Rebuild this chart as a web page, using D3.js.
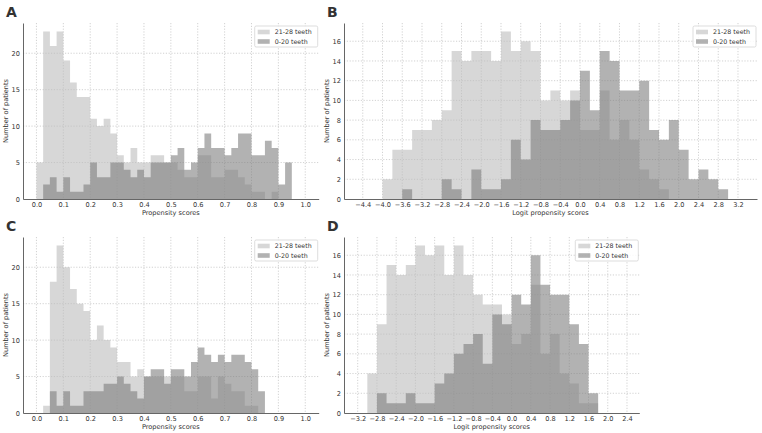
<!DOCTYPE html>
<html>
<head>
<meta charset="utf-8">
<script src="https://cdn.jsdelivr.net/npm/d3@7"></script>
<style>
  body { margin: 0; background: #fff; }
  text { font-family: "DejaVu Sans", sans-serif; fill: #333; }
</style>
</head>
<body>
<svg id="chart" width="762" height="433"></svg>
<script>
const seriesNames = ['21-28 teeth', '0-20 teeth'];

// A: propensity scores, bins of 0.025 starting at 0.0
const binStartA = 0.0, binWidthA = 0.025;
const highA = [5, 23, 21, 23, 19, 16, 14, 14, 11, 10, 11, 9, 6, 5, 7, 5, 5, 6, 6, 5,
               5, 4, 3, 3, 6, 6, 3, 3, 4, 4, 3, 2, 1, 1, 0, 1, 0, 0];
const lowA  = [0, 2, 3, 1, 3, 1, 1, 2, 5, 3, 3, 5, 5, 4, 3, 4, 3, 5, 5, 5,
               6, 7, 4, 5, 7, 9, 7, 7, 6, 7, 9, 9, 6, 6, 8, 7, 2, 5];

// B: logit propensity scores, bins of 0.2 starting at -4.0
const binStartB = -4.0, binWidthB = 0.2;
const highB = [2, 5, 5, 7, 7, 8, 9, 15, 14, 15, 15, 14, 17, 15, 16, 15, 10, 11, 10, 11,
               7, 7, 11, 6, 8, 6, 3, 2, 1, 0, 0, 0, 0, 0, 0];
const lowB  = [0, 0, 1, 0, 0, 0, 2, 1, 0, 3, 1, 1, 2, 6, 4, 8, 7, 7, 8, 10,
               13, 9, 15, 14, 11, 11, 12, 7, 6, 8, 5, 2, 3, 2, 1];

// C: propensity scores after matching, bins of 0.025 starting at 0.025
const binStartC = 0.025, binWidthC = 0.025;
const highC = [1, 18, 23, 20, 17, 15, 14, 10, 12, 10, 9, 7, 7, 5, 6, 5, 5, 5, 5, 5,
               5, 3, 3, 5, 5, 2, 5, 4, 3, 3, 1, 1, 0];
const lowC  = [0, 3, 1, 3, 1, 1, 3, 3, 3, 4, 4, 5, 4, 3, 2, 5, 6, 6, 4, 6,
               6, 5, 7, 9, 8, 7, 8, 7, 8, 8, 7, 6, 3];

// D: logit propensity scores after matching, bins of 0.2 starting at -3.0
const binStartD = -3.0, binWidthD = 0.2;
const highD = [4, 9, 15, 14, 15, 17, 16, 17, 14, 17, 14, 12, 11, 11, 10, 7, 8, 13, 6, 8,
               4, 3, 1, 1];
const lowD  = [0, 2, 1, 1, 2, 1, 1, 3, 4, 6, 7, 8, 5, 10, 9, 12, 11, 16, 13, 12,
               12, 9, 7, 2];

const ticksPropX = [0, 0.1, 0.2, 0.3, 0.4, 0.5, 0.6, 0.7, 0.8, 0.9, 1.0];
const ticksPropY = [0, 5, 10, 15, 20];
const ticksLogitBX = [-4.4, -4.0, -3.6, -3.2, -2.8, -2.4, -2.0, -1.6, -1.2, -0.8, -0.4,
                      0.0, 0.4, 0.8, 1.2, 1.6, 2.0, 2.4, 2.8, 3.2];
const ticksLogitDX = [-3.2, -2.8, -2.4, -2.0, -1.6, -1.2, -0.8, -0.4, 0.0, 0.4, 0.8,
                      1.2, 1.6, 2.0, 2.4];
const ticksLogitY = [0, 2, 4, 6, 8, 10, 12, 14, 16];

const svg = d3.select('#chart');

const fills = [
  { color: '#bdbdbd', opacity: 0.6 },
  { color: '#7a7a7a', opacity: 0.58 }
];

function drawPanel(p) {
  const g = svg.append('g');
  const x = d3.scaleLinear().domain(p.xDomain).range([p.left, p.right]);
  const y = d3.scaleLinear().domain(p.yDomain).range([p.bottom, p.top]);

  // dotted grid
  g.append('g').selectAll('line').data(p.xTicks).join('line')
    .attr('x1', d => x(d)).attr('x2', d => x(d))
    .attr('y1', p.top).attr('y2', p.bottom)
    .attr('stroke', '#b3b3b3').attr('stroke-width', 0.6)
    .attr('stroke-dasharray', '1.2,1.6');
  g.append('g').selectAll('line').data(p.yTicks.filter(d => d > 0)).join('line')
    .attr('x1', p.left).attr('x2', p.right)
    .attr('y1', d => y(d)).attr('y2', d => y(d))
    .attr('stroke', '#b3b3b3').attr('stroke-width', 0.6)
    .attr('stroke-dasharray', '1.2,1.6');

  // histograms, each drawn as one stepped area so the bars have no seams
  const area = d3.area()
    .curve(d3.curveStepAfter)
    .x(d => x(d.x0))
    .y0(y(0))
    .y1(d => y(d.v));

  [p.high, p.low].forEach((counts, k) => {
    const pts = counts.map((v, i) => ({ x0: p.binStart + i * p.binWidth, v }));
    pts.push({ x0: p.binStart + counts.length * p.binWidth, v: counts[counts.length - 1] });
    g.append('path')
      .attr('d', area(pts))
      .attr('fill', fills[k].color)
      .attr('fill-opacity', fills[k].opacity);
  });

  // axes (left and bottom spines only)
  const ax = g.append('g')
    .attr('transform', `translate(0,${p.bottom})`)
    .call(d3.axisBottom(x).tickValues(p.xTicks).tickFormat(d3.format('.1f'))
      .tickSize(0).tickPadding(3.5).tickSizeOuter(0));
  const ay = g.append('g')
    .attr('transform', `translate(${p.left},0)`)
    .call(d3.axisLeft(y).tickValues(p.yTicks).tickFormat(d3.format('d'))
      .tickSize(0).tickPadding(3).tickSizeOuter(0));
  [ax, ay].forEach(a => {
    a.select('.domain').attr('stroke', '#555').attr('stroke-width', 0.9);
    a.selectAll('text').attr('font-size', 6.6).attr('fill', '#333')
      .attr('font-family', '"DejaVu Sans", sans-serif');
  });

  g.append('text')
    .attr('x', (p.left + p.right) / 2).attr('y', p.bottom + 15.5)
    .attr('text-anchor', 'middle').attr('font-size', 6.6)
    .text(p.xLabel);
  g.append('text')
    .attr('transform', `translate(${p.left - 15},${(p.top + p.bottom) / 2}) rotate(-90)`)
    .attr('text-anchor', 'middle').attr('font-size', 6.6)
    .text('Number of patients');

  // panel letter
  g.append('text')
    .attr('x', p.left - 17).attr('y', p.top - 6)
    .attr('font-family', '"Liberation Sans", Arial, sans-serif')
    .attr('font-weight', 'bold').attr('font-size', 14).attr('fill', '#111')
    .text(p.letter);

  // legend
  const lw = 63, lh = 21;
  const lx = p.right - lw - 1, ly = p.top + 3;
  const lg = g.append('g');
  lg.append('rect')
    .attr('x', lx).attr('y', ly).attr('width', lw).attr('height', lh)
    .attr('rx', 1.5).attr('fill', '#fff').attr('fill-opacity', 0.85)
    .attr('stroke', '#cfcfcf').attr('stroke-width', 0.7);
  seriesNames.forEach((name, k) => {
    const cy = ly + 6 + k * 9.5;
    lg.append('rect')
      .attr('x', lx + 3).attr('y', cy - 2.3).attr('width', 12).attr('height', 4.6)
      .attr('fill', fills[k].color).attr('fill-opacity', fills[k].opacity);
    lg.append('text')
      .attr('x', lx + 20).attr('y', cy + 2.3)
      .attr('font-size', 6.3)
      .text(name);
  });
}

drawPanel({
  letter: 'A', left: 23, right: 318.7, top: 23, bottom: 199,
  xDomain: [-0.05, 1.05], yDomain: [0, 24.15],
  xTicks: ticksPropX, yTicks: ticksPropY,
  binStart: binStartA, binWidth: binWidthA, high: highA, low: lowA,
  xLabel: 'Propensity scores'
});
drawPanel({
  letter: 'B', left: 344, right: 757, top: 23, bottom: 199,
  xDomain: [-4.78, 3.585], yDomain: [0, 17.85],
  xTicks: ticksLogitBX, yTicks: ticksLogitY,
  binStart: binStartB, binWidth: binWidthB, high: highB, low: lowB,
  xLabel: 'Logit propensity scores'
});
drawPanel({
  letter: 'C', left: 23, right: 318.7, top: 237, bottom: 413,
  xDomain: [-0.05, 1.05], yDomain: [0, 24.15],
  xTicks: ticksPropX, yTicks: ticksPropY,
  binStart: binStartC, binWidth: binWidthC, high: highC, low: lowC,
  xLabel: 'Propensity scores'
});
drawPanel({
  letter: 'D', left: 344, right: 639.3, top: 237, bottom: 413,
  xDomain: [-3.485, 2.656], yDomain: [0, 17.85],
  xTicks: ticksLogitDX, yTicks: ticksLogitY,
  binStart: binStartD, binWidth: binWidthD, high: highD, low: lowD,
  xLabel: 'Logit propensity scores'
});
</script>
</body>
</html>
